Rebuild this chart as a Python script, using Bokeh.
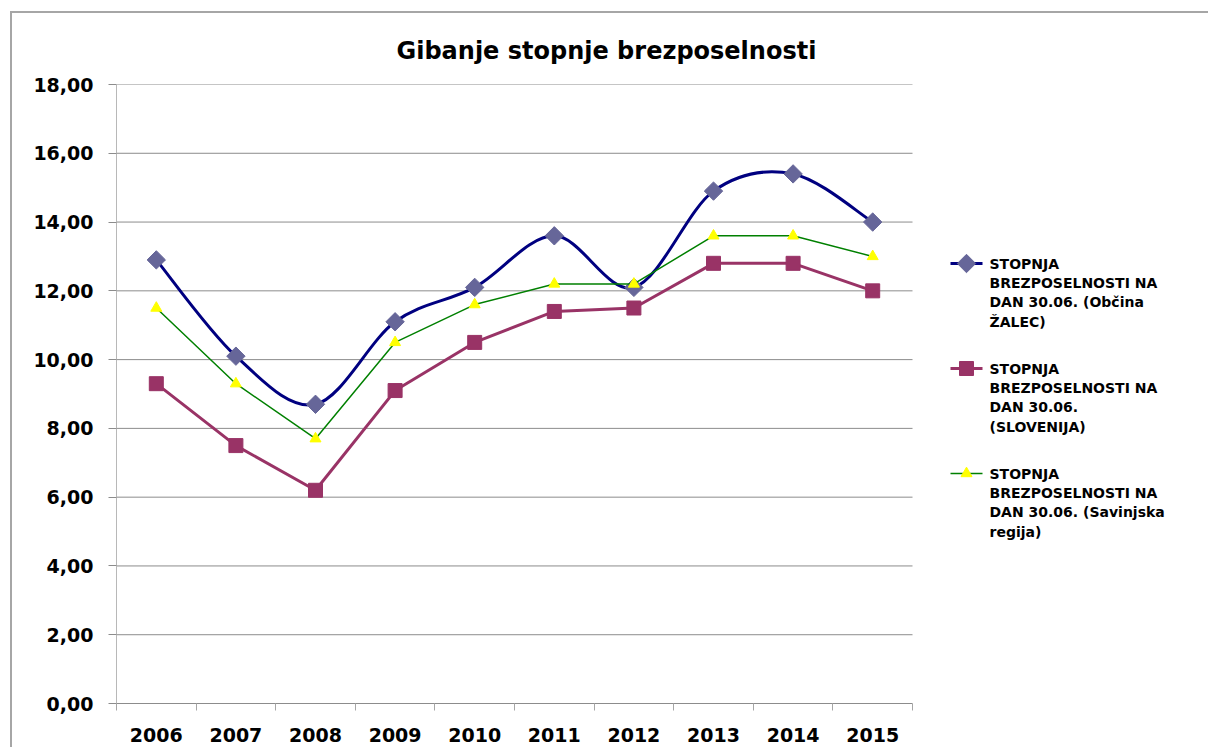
import numpy as np
from bokeh.plotting import figure
from bokeh.models import Range1d, FixedTicker, ColumnDataSource
from bokeh.core.properties import value
from bokeh.embed import file_html
from bokeh.resources import INLINE

# ---------------- data ----------------
years = ["2006", "2007", "2008", "2009", "2010", "2011", "2012", "2013", "2014", "2015"]
zalec = [12.9, 10.1, 8.7, 11.1, 12.1, 13.6, 12.1, 14.9, 15.4, 14.0]
slovenija = [9.3, 7.5, 6.2, 9.1, 10.5, 11.4, 11.5, 12.8, 12.8, 12.0]
savinjska = [11.5, 9.3, 7.7, 10.5, 11.6, 12.2, 12.2, 13.6, 13.6, 13.0]
series_names = [
    "STOPNJA\nBREZPOSELNOSTI NA\nDAN 30.06. (Občina\nŽALEC)",
    "STOPNJA\nBREZPOSELNOSTI NA\nDAN 30.06.\n(SLOVENIJA)",
    "STOPNJA\nBREZPOSELNOSTI NA\nDAN 30.06. (Savinjska\nregija)",
]
y_ticks = [0, 2, 4, 6, 8, 10, 12, 14, 16, 18]
y_tick_labels = ["0,00", "2,00", "4,00", "6,00", "8,00", "10,00", "12,00", "14,00", "16,00", "18,00"]
title_text = "Gibanje stopnje brezposelnosti"

# ---------------- layout (pixels) ----------------
CANVAS_L, CANVAS_T = 12, 13
W, H = 1198, 736
FRAME_L, FRAME_R = 116, CANVAS_L + W
FRAME_T, FRAME_B = 84, 703
CAT_AREA_R = 912  # right end of category area
n = len(years)
px_per_cat = (CAT_AREA_R - FRAME_L) / n
x_end = (FRAME_R - FRAME_L) / px_per_cat
y_max = 18.0
px_per_unit = (FRAME_B - FRAME_T) / y_max


def px_x(px):
    return (px - FRAME_L) / px_per_cat


def px_y(py):
    return (FRAME_B - py) / px_per_unit


FONT = "DejaVu Sans"

p = figure(width=W, height=H, output_backend="svg", toolbar_location=None,
           x_range=Range1d(0, x_end), y_range=Range1d(0, y_max),
           min_border_left=FRAME_L - CANVAS_L, min_border_right=0,
           min_border_top=FRAME_T - CANVAS_T, min_border_bottom=CANVAS_T + H - FRAME_B)
p.styles = {"margin-left": "10px", "margin-top": "11px",
            "border-left": "2px solid #a6a6a6", "border-top": "2px solid #a6a6a6"}
p.outline_line_color = None
p.background_fill_color = "white"
p.border_fill_color = "white"
p.xgrid.visible = False
p.ygrid.visible = False

# title
p.title.text = title_text
p.title.align = "left"
p.title.offset = 280
p.title.standoff = 40
p.title.text_font = FONT
p.title.text_font_style = "bold"
p.title.text_font_size = "24px"
p.title.text_color = "black"

# horizontal gridlines over the category area only
grid_src = ColumnDataSource(dict(y=y_ticks[1:], x0=[0] * (len(y_ticks) - 1), x1=[n] * (len(y_ticks) - 1)))
p.segment(x0="x0", x1="x1", y0="y", y1="y", source=grid_src, line_color="#8c8c8c", line_width=1)

# x axis
xc = [i + 0.5 for i in range(n)]
xa = p.xaxis[0]
xa.ticker = FixedTicker(ticks=xc, minor_ticks=list(range(n + 1)))
xa.major_label_overrides = {x: y for x, y in zip(xc, years)}
xa.bounds = (0, n)
xa.axis_line_color = "#8c8c8c"
xa.major_tick_line_color = None
xa.major_tick_out = 0
xa.major_tick_in = 0
xa.minor_tick_line_color = "#a6a6a6"
xa.minor_tick_out = 7
xa.minor_tick_in = 0
xa.major_label_standoff = 17
xa.major_label_text_font = FONT
xa.major_label_text_font_style = "bold"
xa.major_label_text_font_size = "19px"
xa.major_label_text_color = "black"

# y axis
ya = p.yaxis[0]
ya.ticker = FixedTicker(ticks=y_ticks)
ya.major_label_overrides = {t: s for t, s in zip(y_ticks, y_tick_labels)}
ya.axis_line_color = "#b8b8b8"
ya.major_tick_line_color = "#8c8c8c"
ya.major_tick_out = 8
ya.major_tick_in = 0
ya.minor_tick_line_color = None
ya.major_label_standoff = 15
ya.major_label_text_font = FONT
ya.major_label_text_font_style = "bold"
ya.major_label_text_font_size = "19px"
ya.major_label_text_color = "black"

# ---------------- series ----------------
# smoothed line (Catmull-Rom -> Bezier) for Žalec
P = np.column_stack([xc, zalec])
Pe = np.vstack([P[0], P, P[-1]])
bz = dict(x0=[], y0=[], x1=[], y1=[], cx0=[], cy0=[], cx1=[], cy1=[])
for i in range(n - 1):
    p0, p1, p2, p3 = Pe[i], Pe[i + 1], Pe[i + 2], Pe[i + 3]
    c1 = p1 + (p2 - p0) / 6.0
    c2 = p2 - (p3 - p1) / 6.0
    bz["x0"].append(p1[0]); bz["y0"].append(p1[1])
    bz["x1"].append(p2[0]); bz["y1"].append(p2[1])
    bz["cx0"].append(c1[0]); bz["cy0"].append(c1[1])
    bz["cx1"].append(c2[0]); bz["cy1"].append(c2[1])
p.bezier(x0="x0", y0="y0", x1="x1", y1="y1", cx0="cx0", cy0="cy0", cx1="cx1", cy1="cy1",
         source=ColumnDataSource(bz), line_color="#000080", line_width=3)
p.scatter(xc, zalec, marker="square", angle=np.pi / 4, size=13,
          fill_color="#666699", line_color="#666699")

p.line(xc, slovenija, line_color="#993366", line_width=3)
p.scatter(xc, slovenija, marker="square", size=14, fill_color="#993366", line_color="#993366")

p.line(xc, savinjska, line_color="#008000", line_width=1.5)
p.scatter(xc, savinjska, marker="triangle", size=11, fill_color="#FFFF00", line_color="#FFFF00")

# ---------------- legend (manual, wrapped labels) ----------------
leg_first_py = [263, 368, 473]
line_h = 19.5
leg_y = [px_y(v) for v in leg_first_py]
lx0, lx1, lxm, ltx = px_x(950), px_x(982), px_x(966), px_x(989)
styles = [("#000080", 3, "square", np.pi / 4, 13, "#666699"),
          ("#993366", 3, "square", 0, 14, "#993366"),
          ("#008000", 1.5, "triangle", 0, 11, "#FFFF00")]
for yv, (lc, lw, mk, ang, sz, fc) in zip(leg_y, styles):
    p.segment(x0=[lx0], x1=[lx1], y0=[yv], y1=[yv], line_color=lc, line_width=lw)
    p.scatter([lxm], [yv], marker=mk, angle=ang, size=sz, fill_color=fc, line_color=fc)

txt_y = [px_y(v + 1.5 * line_h) for v in leg_first_py]
p.text(x=[ltx] * 3, y=txt_y, text=series_names, text_font=value(FONT), text_font_style="bold",
       text_font_size="14px", text_color="black", text_baseline="middle", text_align="left",
       text_line_height=1.2)

open("out.html", "w").write(file_html(p, INLINE))
